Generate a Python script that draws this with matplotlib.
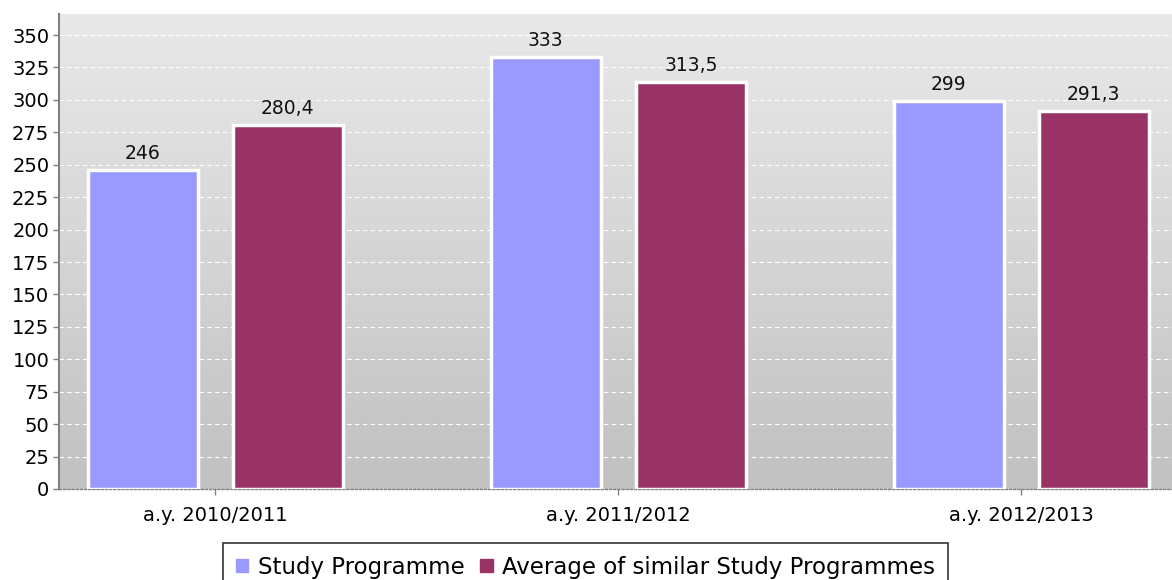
import matplotlib
matplotlib.use("Agg")
import matplotlib.pyplot as plt
import numpy as np
from matplotlib.colors import LinearSegmentedColormap
from matplotlib.patches import Patch

categories = ["a.y. 2010/2011", "a.y. 2011/2012", "a.y. 2012/2013"]
series_names = ["Study Programme", "Average of similar Study Programmes"]
study_programme = [246, 333, 299]
average_similar = [280.4, 313.5, 291.3]
y_ticks = [0, 25, 50, 75, 100, 125, 150, 175, 200, 225, 250, 275, 300, 325, 350]

colors = ["#9999ff", "#993366"]

fig = plt.figure(figsize=(11.72, 5.80), dpi=100)
ax = fig.add_axes([59/1172, 1-489/580, 1-59/1172, (489-14)/580])

# gradient background
grad = np.linspace(0, 1, 256).reshape(-1, 1)
cmap = LinearSegmentedColormap.from_list("bg", ["#e9e9e9", "#c1c1c1"])
ax.imshow(grad, extent=[0, 1, 0, 1], transform=ax.transAxes, cmap=cmap,
          aspect="auto", zorder=0, origin="upper")

x = np.arange(len(categories))
w = 0.273
off = 0.18

def fmt(v):
    return ("%g" % v).replace(".", ",")

for vals, o, c in [(study_programme, -off, colors[0]), (average_similar, off, colors[1])]:
    bars = ax.bar(x + o, vals, width=w, color=c, edgecolor="white", linewidth=2.5, zorder=3)
    for b, v in zip(bars, vals):
        ax.annotate(fmt(v), (b.get_x() + b.get_width()/2, v), xytext=(0, 5),
                    textcoords="offset points", ha="center", va="bottom",
                    fontsize=13.5, color="#111111", zorder=4)

ax.set_xlim(-0.388, 2.374)
ax.set_ylim(0, 366.2)
ax.set_yticks(y_ticks)
ax.set_yticklabels([str(t) for t in y_ticks], fontsize=14)
ax.set_xticks(x)
ax.set_xticklabels(categories, fontsize=14)

ax.yaxis.grid(True, color="white", linestyle=(0, (4, 3)), linewidth=0.8, zorder=1)
ax.set_axisbelow(True)

for s in ["top", "right"]:
    ax.spines[s].set_visible(False)
ax.spines["left"].set_color("#808080")
ax.spines["left"].set_linewidth(1.5)
ax.spines["bottom"].set_color("#808080")
ax.spines["bottom"].set_linestyle((0, (1.5, 1.5)))
ax.spines["bottom"].set_linewidth(1.0)
ax.tick_params(axis="y", length=4, color="#808080", width=1, pad=3)
ax.tick_params(axis="x", length=4, color="#808080", width=1, pad=8)

handles = [Patch(facecolor=colors[0], edgecolor=colors[0]), Patch(facecolor=colors[1], edgecolor=colors[1])]
leg = fig.legend(handles, series_names, loc="upper center", bbox_to_anchor=(585.5/1172, 1-543/580),
                 ncol=2, fontsize=16.5, frameon=True, fancybox=False, handlelength=0.55,
                 handleheight=0.55, handletextpad=0.4, columnspacing=0.7, borderpad=0.55,
                 borderaxespad=0)
leg.get_frame().set_edgecolor("black")
leg.get_frame().set_linewidth(1.2)

fig.savefig("out.png", dpi=100)
